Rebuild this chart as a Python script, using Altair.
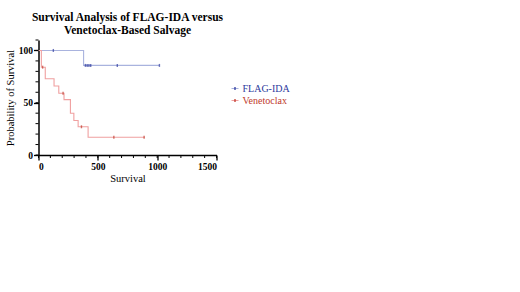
import altair as alt
import pandas as pd

# ---- data ----
series = ["FLAG-IDA", "Venetoclax"]
line_colors = ["#a9b3de", "#f0a0a0"]
mark_colors = ["#2d3a9e", "#c0392b"]

flag_t = [0, 380, 1019]
flag_s = [100, 85.7, 85.7]
flag_cens_t = [125, 395, 410, 425, 440, 664, 1019]
flag_cens_s = [100, 85.7, 85.7, 85.7, 85.7, 85.7, 85.7]

ven_t = [0, 24, 57, 131, 171, 215, 269, 298, 334, 418, 895]
ven_s = [100, 84, 73, 66, 59, 53, 40, 33, 27, 17, 17]
ven_cens_t = [35, 207, 362, 635, 890]
ven_cens_s = [84, 59, 27, 17, 17]

x_ticks = [0, 500, 1000, 1500]
y_ticks = [0, 50, 100]
x_minor = list(range(0, 1501, 100))
y_minor = list(range(0, 111, 10))

FONT = "Liberation Serif"
W, H = 178, 115
PL, PT = 38.5, 40

lines = pd.concat([
    pd.DataFrame({"t": flag_t, "s": flag_s, "series": series[0], "c": line_colors[0]}),
    pd.DataFrame({"t": ven_t, "s": ven_s, "series": series[1], "c": line_colors[1]}),
])
cens = pd.concat([
    pd.DataFrame({"t": flag_cens_t, "s": flag_cens_s, "series": series[0], "c": mark_colors[0]}),
    pd.DataFrame({"t": ven_cens_t, "s": ven_cens_s, "series": series[1], "c": mark_colors[1]}),
])

xs = alt.Scale(domain=[0, 1500], nice=False)
ys = alt.Scale(domain=[0, 110], nice=False)

common = dict(labelFont=FONT, labelFontSize=9.5, labelFontWeight="bold", titleFont=FONT,
              titleFontSize=10.5, titleFontWeight="normal", tickSize=5, labelPadding=1,
              grid=False, domainColor="black", tickColor="black", labelColor="black",
              titleColor="black", domainWidth=1.5, tickWidth=1.3, format="d")
x_axis = alt.Axis(values=x_ticks, title="Survival", titlePadding=3, **common)
y_axis = alt.Axis(values=y_ticks, title="Probability of Survival", titlePadding=3, **common)

line_layer = alt.Chart(lines).mark_line(interpolate="step-after", strokeWidth=1.1).encode(
    x=alt.X("t:Q", scale=xs, axis=x_axis),
    y=alt.Y("s:Q", scale=ys, axis=y_axis),
    color=alt.Color("c:N", scale=None),
    detail="series:N",
    order="t:Q",
)

cens_layer = alt.Chart(cens).mark_tick(orient="vertical", size=3, thickness=1.4).encode(
    x=alt.X("t:Q", scale=xs),
    y=alt.Y("s:Q", scale=ys),
    color=alt.Color("c:N", scale=None),
)

x_minor_layer = alt.Chart(pd.DataFrame({"t": x_minor})).mark_rule(color="black", strokeWidth=1).encode(
    x=alt.X("t:Q", scale=xs),
    y=alt.value(H), y2=alt.value(H + 3),
)
y_minor_layer = alt.Chart(pd.DataFrame({"s": y_minor})).mark_rule(color="black", strokeWidth=1).encode(
    y=alt.Y("s:Q", scale=ys),
    x=alt.value(-3), x2=alt.value(0),
)

legend_layers = []
for i, name in enumerate(series):
    ly = 48.5 + i * 12
    d = pd.DataFrame({"label": [name]})
    legend_layers.append(
        alt.Chart(d).mark_rule(color=line_colors[i], strokeWidth=1).encode(
            x=alt.value(193), x2=alt.value(200), y=alt.value(ly))
    )
    legend_layers.append(
        alt.Chart(d).mark_rule(color=mark_colors[i], strokeWidth=1.3).encode(
            x=alt.value(196.5), y=alt.value(ly - 1.5), y2=alt.value(ly + 1.5))
    )
    legend_layers.append(
        alt.Chart(d).mark_text(align="left", baseline="middle", font=FONT, fontSize=10,
                               color=mark_colors[i]).encode(
            text="label:N", x=alt.value(204), y=alt.value(ly))
    )

chart = alt.layer(line_layer, cens_layer, x_minor_layer, y_minor_layer, *legend_layers).properties(
    width=W, height=H,
    title=alt.TitleParams(
        text=["Survival Analysis of FLAG-IDA versus", "Venetoclax-Based Salvage"],
        font=FONT, fontSize=11.5, fontWeight="bold", anchor="middle", offset=3,
        lineHeight=13, color="black"),
    autosize=alt.AutoSizeParams(type="none"),
    padding={"left": PL, "top": PT, "right": 520 - PL - W, "bottom": 292 - PT - H},
    background="white",
).configure_view(stroke=None)

chart.save("out.html", embed_options={"renderer": "svg", "actions": False})
